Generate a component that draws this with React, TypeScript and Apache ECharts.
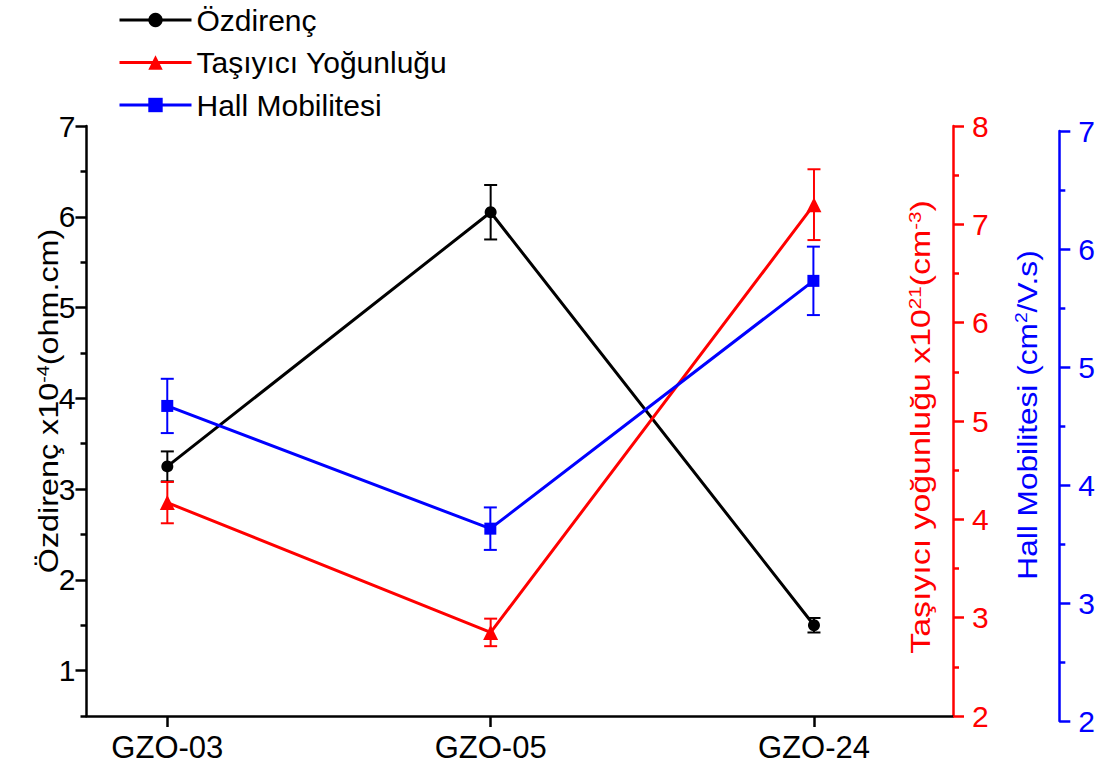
import React, { useEffect, useRef } from "react";
import * as echarts from "echarts";

const categories = ["GZO-03", "GZO-05", "GZO-24"];
const resistivity = [3.25, 6.05, 1.5];
const resistivityErr = [0.165, 0.3, 0.08];
const carrier = [4.17, 2.85, 7.2];
const carrierErr = [0.21, 0.14, 0.36];
const mobility = [4.67, 3.63, 5.73];
const mobilityErr = [0.23, 0.18, 0.29];

const leftMajor = [1, 2, 3, 4, 5, 6, 7];
const leftMinor = [0.5, 1.5, 2.5, 3.5, 4.5, 5.5, 6.5];
const redMajor = [2, 3, 4, 5, 6, 7, 8];
const redMinor = [2.5, 3.5, 4.5, 5.5, 6.5, 7.5];
const blueMajor = [2, 3, 4, 5, 6, 7];
const blueMinor = [2.5, 3.5, 4.5, 5.5, 6.5];

const FONT = "'Liberation Sans', Arial, sans-serif";
const BLACK = "#000000";
const RED = "#ff0000";
const BLUE = "#0000ff";

const pts = (vals: number[]) => vals.map((v, i) => [i, v]);
const errs = (vals: number[], e: number[]) => vals.map((v, i) => [i, v - e[i], v + e[i]]);

const errorSeries = (name: string, data: number[][], color: string, xi: number, yi: number) => ({
  type: "custom",
  name: name + "-err",
  xAxisIndex: xi,
  yAxisIndex: yi,
  z: 1,
  data,
  encode: { x: 0, y: [1, 2] },
  renderItem: (params: any, api: any) => {
    const x = api.value(0);
    const hi = api.coord([x, api.value(2)]);
    const lo = api.coord([x, api.value(1)]);
    const w = 6.5;
    const style = { stroke: color, lineWidth: 2 };
    return {
      type: "group",
      children: [
        { type: "line", shape: { x1: hi[0], y1: hi[1], x2: lo[0], y2: lo[1] }, style },
        { type: "line", shape: { x1: hi[0] - w, y1: hi[1], x2: hi[0] + w, y2: hi[1] }, style },
        { type: "line", shape: { x1: lo[0] - w, y1: lo[1], x2: lo[0] + w, y2: lo[1] }, style },
      ],
    };
  },
});

const yAxisPair = (opts: {
  grid: number;
  position: string;
  offset: number;
  min: number;
  max: number;
  color: string;
  major: number[];
  minor: number[];
  margin: number;
}) => [
  {
    type: "value",
    gridIndex: opts.grid,
    position: opts.position,
    offset: opts.offset,
    min: opts.min,
    max: opts.max,
    axisLine: { show: true, onZero: false, lineStyle: { color: opts.color, width: 2.5 } },
    axisTick: { show: true, length: 11, customValues: opts.major, lineStyle: { color: opts.color, width: 2.5 } },
    axisLabel: {
      customValues: opts.major,
      color: opts.color,
      fontSize: 30,
      fontFamily: FONT,
      margin: opts.margin,
    },
    splitLine: { show: false },
  },
  {
    type: "value",
    gridIndex: opts.grid,
    position: opts.position,
    offset: opts.offset,
    min: opts.min,
    max: opts.max,
    axisLine: { show: false, onZero: false },
    axisTick: { show: true, length: 6, customValues: opts.minor, lineStyle: { color: opts.color, width: 2.5 } },
    axisLabel: { show: false },
    splitLine: { show: false },
  },
];

const titleText = (x: number, y: number, stretch: number, text: string, color: string) => ({
  type: "text",
  x,
  y,
  rotation: Math.PI / 2,
  scaleX: stretch,
  style: {
    text,
    fill: color,
    fontSize: 28,
    fontFamily: FONT,
    align: "center",
    verticalAlign: "middle",
    rich: {
      sup: { fontSize: 17, fill: color, fontFamily: FONT, verticalAlign: "top", lineHeight: 28 },
    },
  },
});

export default function App() {
  const ref = useRef<HTMLDivElement>(null);
  useEffect(() => {
    if (!ref.current) return;
    const chart = echarts.init(ref.current, null, { renderer: "svg" });
    const xBase = {
      type: "value",
      min: -0.25,
      max: 2.43,
      splitLine: { show: false },
    };
    const option: any = {
      animation: false,
      backgroundColor: "#ffffff",
      grid: [
        { left: 86.5, right: 145, top: 126, bottom: 60 },
        { left: 86.5, right: 145, top: 131, bottom: 55 },
      ],
      legend: {
        orient: "vertical",
        left: 118,
        top: 5,
        padding: 0,
        itemWidth: 72,
        itemHeight: 18,
        itemGap: 12.5,
        lineStyle: { width: 3 },
        textStyle: { fontSize: 30, fontFamily: FONT, color: "#000", padding: [0, 0, 0, 0] },
        data: ["Özdirenç", "Taşıyıcı Yoğunluğu", "Hall Mobilitesi"],
      },
      xAxis: [
        {
          ...xBase,
          gridIndex: 0,
          axisLine: { show: true, onZero: false, lineStyle: { color: BLACK, width: 2.5 } },
          axisTick: { show: true, length: 11, customValues: [0, 1, 2], lineStyle: { color: BLACK, width: 2.5 } },
          axisLabel: {
            customValues: [0, 1, 2],
            formatter: (v: number) => categories[Math.round(v)] ?? "",
            color: BLACK,
            fontSize: 31,
            fontFamily: FONT,
            margin: 16,
          },
        },
        { ...xBase, gridIndex: 1, show: false, axisLine: { onZero: false } },
      ],
      yAxis: [
        ...yAxisPair({ grid: 0, position: "left", offset: 0, min: 0.5, max: 7, color: BLACK, major: leftMajor, minor: leftMinor, margin: 11 }),
        ...yAxisPair({ grid: 0, position: "right", offset: 0, min: 2, max: 8, color: RED, major: redMajor, minor: redMinor, margin: 19 }),
        ...yAxisPair({ grid: 1, position: "right", offset: 107, min: 2, max: 7, color: BLUE, major: blueMajor, minor: blueMinor, margin: 19 }),
      ],
      series: [
        errorSeries("Özdirenç", errs(resistivity, resistivityErr), BLACK, 0, 0),
        errorSeries("Taşıyıcı Yoğunluğu", errs(carrier, carrierErr), RED, 0, 2),
        errorSeries("Hall Mobilitesi", errs(mobility, mobilityErr), BLUE, 1, 4),
        {
          type: "line",
          name: "Özdirenç",
          xAxisIndex: 0,
          yAxisIndex: 0,
          data: pts(resistivity),
          symbol: "circle",
          symbolSize: 12,
          z: 3,
          lineStyle: { color: BLACK, width: 3 },
          itemStyle: { color: BLACK },
        },
        {
          type: "line",
          name: "Taşıyıcı Yoğunluğu",
          xAxisIndex: 0,
          yAxisIndex: 2,
          data: pts(carrier),
          symbol: "triangle",
          symbolSize: 15,
          z: 3,
          lineStyle: { color: RED, width: 3 },
          itemStyle: { color: RED },
        },
        {
          type: "line",
          name: "Hall Mobilitesi",
          xAxisIndex: 1,
          yAxisIndex: 4,
          data: pts(mobility),
          symbol: "rect",
          symbolSize: 12,
          z: 3,
          lineStyle: { color: BLUE, width: 3 },
          itemStyle: { color: BLUE },
        },
      ],
      graphic: [
        titleText(48, 401, 1.155, "Özdirenç x10{sup|-4}(ohm.cm)", BLACK),
        titleText(921, 427, 1.21, "Taşıyıcı yoğunluğu x10{sup|21}(cm{sup|-3})", RED),
        titleText(1027, 415, 1.13, "Hall Mobilitesi (cm{sup|2}/V.s)", BLUE),
      ],
    };
    chart.setOption(option);
    return () => chart.dispose();
  }, []);
  return <div ref={ref} style={{ width: 1098, height: 776, position: "absolute", left: 0, top: 0 }} />;
}
